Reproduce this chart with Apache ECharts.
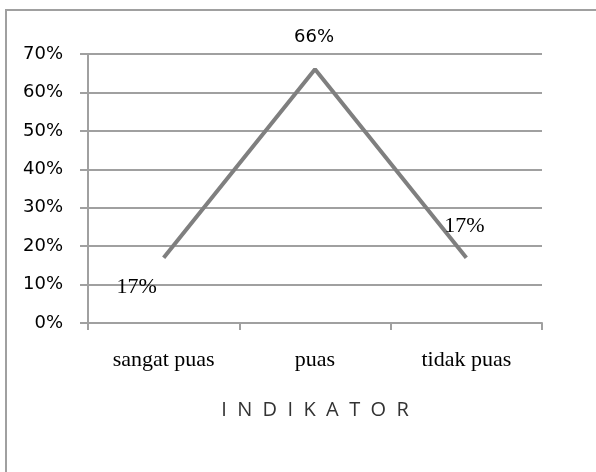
<!DOCTYPE html>
<html><head><meta charset="utf-8">
<script src="https://cdn.jsdelivr.net/npm/echarts@6/dist/echarts.min.js"></script>
<style>html,body{margin:0;padding:0;background:#fff}#c{width:596px;height:472px}</style>
</head><body><div id="c"></div>
<script>
const categories = ['sangat puas', 'puas', 'tidak puas'];
const values = [17, 66, 17];
const yTicks = [0, 10, 20, 30, 40, 50, 60, 70];
const axisTitle = 'I  N  D  I  K  A  T  O  R';

const chart = echarts.init(document.getElementById('c'), null, {renderer: 'canvas'});
const labelCfg = [
  {position: 'inside', offset: [-27, 30], fontFamily: 'Liberation Serif', fontSize: 22},
  {position: 'inside', offset: [-1, -32], fontFamily: 'DejaVu Sans', fontSize: 18},
  {position: 'inside', offset: [-2, -31], fontFamily: 'Liberation Serif', fontSize: 22}
];
chart.setOption({
  animation: false,
  backgroundColor: '#fff',
  graphic: [{type: 'rect', shape: {x: 6, y: 10, width: 640, height: 520},
    style: {fill: 'none', stroke: '#a0a0a0', lineWidth: 2}, silent: true}],
  grid: {left: 88, right: 54, top: 54, bottom: 149},
  xAxis: {
    type: 'category', data: categories, boundaryGap: true,
    axisLine: {lineStyle: {color: '#a0a0a0', width: 2}},
    axisTick: {show: true, length: 7, lineStyle: {color: '#a0a0a0', width: 2}},
    axisLabel: {margin: 26, color: '#000', fontFamily: 'Liberation Serif', fontSize: 22},
    name: axisTitle, nameLocation: 'middle', nameGap: 77,
    nameTextStyle: {fontFamily: 'Open Sans', fontSize: 20, color: '#333'}
  },
  yAxis: {
    type: 'value', min: yTicks[0], max: yTicks[yTicks.length - 1], interval: 10,
    axisLine: {show: true, lineStyle: {color: '#a0a0a0', width: 2}},
    axisTick: {show: true, length: 8, lineStyle: {color: '#a0a0a0', width: 2}},
    splitLine: {lineStyle: {color: '#a0a0a0', width: 2}},
    axisLabel: {margin: 25, color: '#000', fontFamily: 'DejaVu Sans', fontSize: 18,
      formatter: v => v + '%'}
  },
  series: [{
    type: 'line',
    data: values.map((v, i) => ({value: v, label: labelCfg[i]})),
    symbol: 'circle', symbolSize: 1, showSymbol: true,
    itemStyle: {color: 'rgba(0,0,0,0)'},
    lineStyle: {color: '#7f7f7f', width: 4},
    label: {show: true, formatter: p => p.value + '%', color: '#000'}
  }]
});
</script></body></html>
